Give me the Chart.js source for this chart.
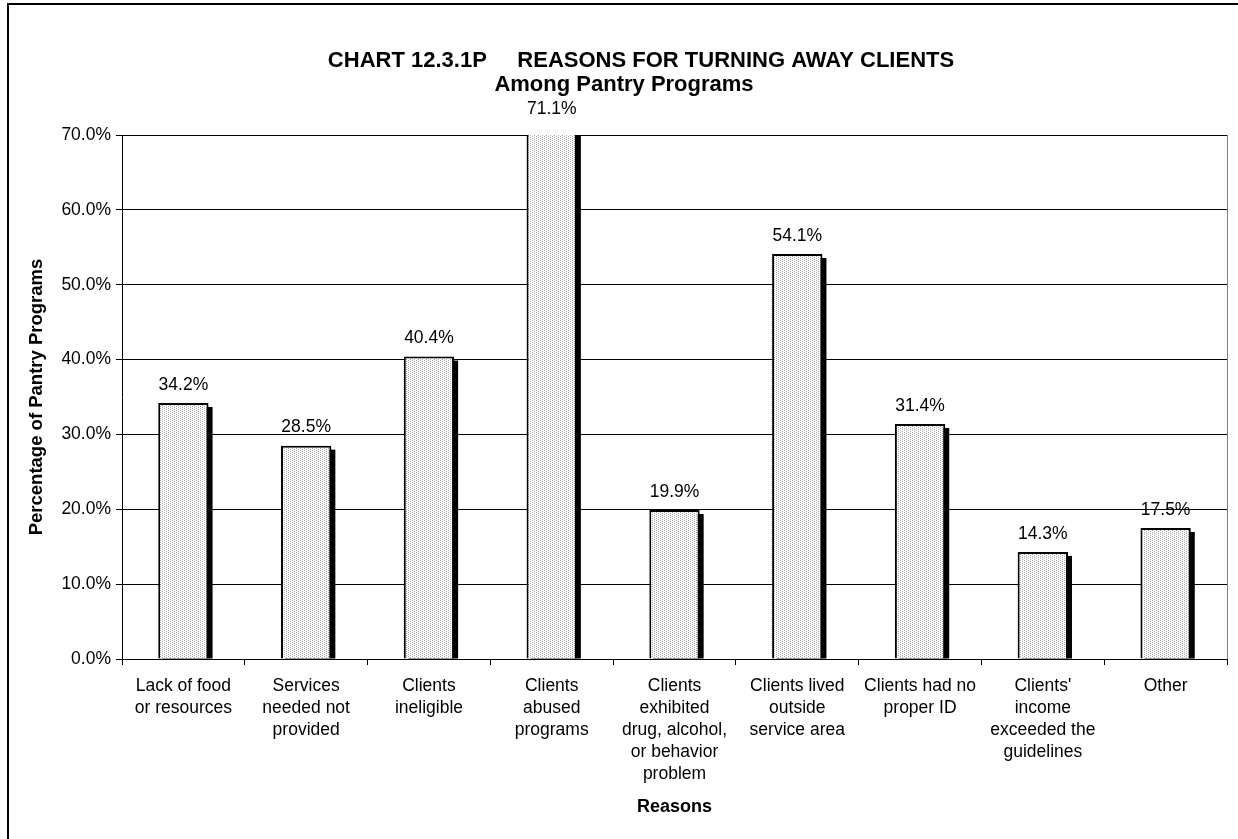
<!DOCTYPE html>
<html>
<head>
<meta charset="utf-8">
<title>Chart 12.3.1P</title>
<script src="https://cdn.jsdelivr.net/npm/chart.js@4.4.1/dist/chart.umd.min.js"></script>
<style>
  html, body { margin: 0; padding: 0; background: #fff; overflow: hidden; }
  #grafico { display: block; }
</style>
</head>
<body>
<canvas id="grafico" width="1238" height="839"></canvas>
<script>
// dados do grafico
const categorias = [
  ['Lack of food', 'or resources'],
  ['Services', 'needed not', 'provided'],
  ['Clients', 'ineligible'],
  ['Clients', 'abused', 'programs'],
  ['Clients', 'exhibited', 'drug, alcohol,', 'or behavior', 'problem'],
  ['Clients lived', 'outside', 'service area'],
  ['Clients had no', 'proper ID'],
  ["Clients'", 'income', 'exceeded the', 'guidelines'],
  ['Other']
];
const percentuais = [34.2, 28.5, 40.4, 71.1, 19.9, 54.1, 31.4, 14.3, 17.5];
const ticksY = [0, 10, 20, 30, 40, 50, 60, 70];

const tituloLinha1 = 'CHART 12.3.1P     REASONS FOR TURNING AWAY CLIENTS';
const tituloLinha2 = 'Among Pantry Programs';
const tituloEixoY = 'Percentage of Pantry Programs';
const tituloEixoX = 'Reasons';

const fonte = "'Liberation Sans', Arial, Helvetica, sans-serif";

document.addEventListener('DOMContentLoaded', () => {
  const ctx = document.getElementById('grafico').getContext('2d');

  // padrao pontilhado das barras
  function criarPadrao() {
    const c = document.createElement('canvas');
    c.width = 4;
    c.height = 4;
    const p = c.getContext('2d');
    p.fillStyle = '#fff';
    p.fillRect(0, 0, 4, 4);
    p.fillStyle = '#a8a8a8';
    p.fillRect(0, 0, 1, 1);
    p.fillRect(2, 1, 1, 1);
    p.fillRect(0, 2, 1, 1);
    p.fillRect(2, 3, 1, 1);
    return ctx.createPattern(c, 'repeat');
  }

  // fundo branco e moldura externa
  const fundoPlugin = {
    id: 'fundo',
    beforeDraw(chart) {
      const c = chart.ctx;
      c.save();
      c.fillStyle = '#fff';
      c.fillRect(0, 0, chart.width, chart.height);
      c.strokeStyle = '#000';
      c.lineWidth = 2;
      c.strokeRect(8, 4, 1400, 1000);
      c.restore();
    }
  };

  // sombra preta atras de cada barra
  const sombraPlugin = {
    id: 'sombra',
    beforeDatasetsDraw(chart) {
      const c = chart.ctx;
      const area = chart.chartArea;
      c.save();
      c.beginPath();
      c.rect(area.left, area.top, area.right - area.left, area.bottom - area.top);
      c.clip();
      c.fillStyle = '#000';
      chart.getDatasetMeta(0).data.forEach(bar => {
        const { x, y, base, width } = bar.getProps(['x', 'y', 'base', 'width'], true);
        c.fillRect(x - width / 2 + 4, y + 4, width, base - y - 4);
      });
      c.restore();
    }
  };

  // rotulos de valor, titulo e borda direita da area
  const textosPlugin = {
    id: 'textos',
    afterDraw(chart) {
      const c = chart.ctx;
      const area = chart.chartArea;
      c.save();
      c.fillStyle = '#000';
      c.textAlign = 'center';
      c.textBaseline = 'middle';
      c.font = '17.5px ' + fonte;
      chart.getDatasetMeta(0).data.forEach((bar, i) => {
        c.fillText(percentuais[i].toFixed(1) + '%', bar.x, bar.y - 18);
      });

      c.font = 'bold 22px ' + fonte;
      c.fillText(tituloLinha1, 641, 61);
      c.fillText(tituloLinha2, 624, 85);

      c.strokeStyle = '#808080';
      c.lineWidth = 1;
      c.beginPath();
      c.moveTo(Math.round(area.right) + 0.5, area.top);
      c.lineTo(Math.round(area.right) + 0.5, area.bottom);
      c.stroke();
      c.restore();
    }
  };

  new Chart(ctx, {
    type: 'bar',
    data: {
      labels: categorias,
      datasets: [{
        data: percentuais,
        backgroundColor: criarPadrao(),
        borderColor: '#000',
        borderWidth: 2,
        barPercentage: 0.41,
        categoryPercentage: 1
      }]
    },
    options: {
      responsive: false,
      animation: false,
      devicePixelRatio: 1,
      layout: { padding: { top: 135, right: 11, left: 0, bottom: 0 } },
      plugins: {
        legend: { display: false },
        tooltip: { enabled: false },
        title: { display: false }
      },
      scales: {
        y: {
          min: 0,
          max: 70,
          afterFit: s => { s.width = 122; },
          afterBuildTicks: s => { s.ticks = ticksY.map(v => ({ value: v })); },
          ticks: {
            color: '#000',
            padding: 5,
            font: { family: fonte, size: 17.5 },
            callback: v => Number(v).toFixed(1) + '%'
          },
          grid: { color: '#000', lineWidth: 1, tickLength: 6 },
          border: { color: '#000', width: 1 },
          title: {
            display: true,
            text: tituloEixoY,
            color: '#000',
            padding: { top: 26, bottom: 0 },
            font: { family: fonte, size: 18.5, weight: 'bold' }
          }
        },
        x: {
          afterFit: s => { s.height = 180; },
          ticks: {
            color: '#000',
            padding: 10,
            maxRotation: 0,
            autoSkip: false,
            font: { family: fonte, size: 17.5, lineHeight: 1.26 }
          },
          grid: { drawOnChartArea: false, color: '#000', tickLength: 6, offset: true },
          border: { color: '#000', width: 1 },
          title: {
            display: true,
            text: tituloEixoX,
            color: '#000',
            padding: { top: 0, bottom: 21 },
            font: { family: fonte, size: 18, weight: 'bold' }
          }
        }
      }
    },
    plugins: [fundoPlugin, sombraPlugin, textosPlugin]
  });
});
</script>
</body>
</html>
